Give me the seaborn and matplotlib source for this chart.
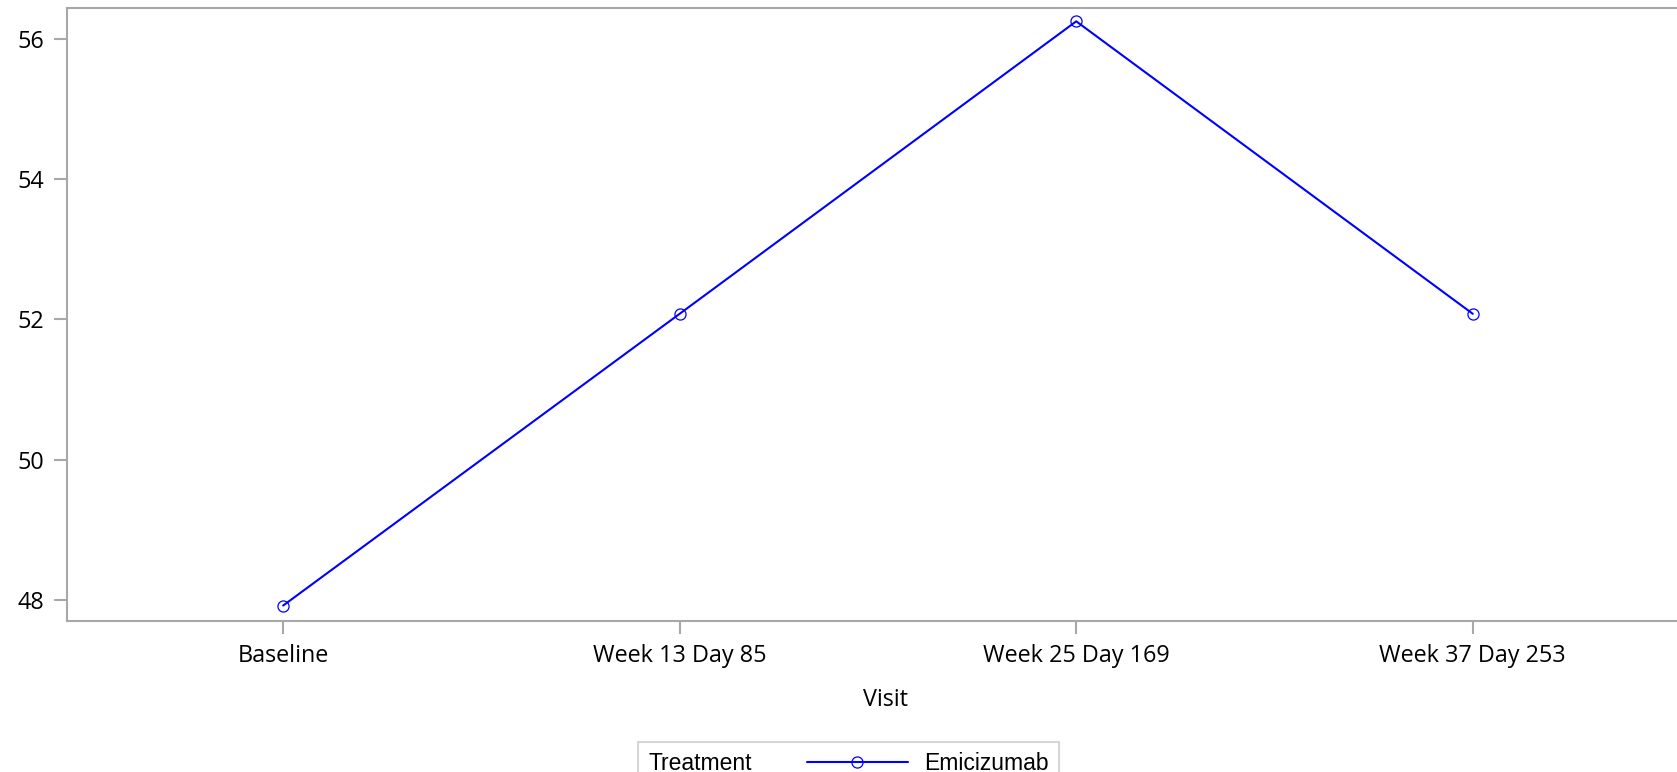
# Mean value by visit - Emicizumab

import pandas as pd
import seaborn as sns
import matplotlib.pyplot as plt
from matplotlib.lines import Line2D
from matplotlib.offsetbox import HPacker

# Data

visits = ["Baseline", "Week 13 Day 85", "Week 25 Day 169", "Week 37 Day 253"]
values = [47.92, 52.08, 56.25, 52.08]
treatment = ["Emicizumab"] * len(visits)
y_ticks = [48, 50, 52, 54, 56]

df = pd.DataFrame({"Visit": visits, "Value": values, "Treatment": treatment})

sns.set_style("white")
plt.rcParams["font.family"] = ["Open Sans", "DejaVu Sans"]
plt.rcParams["text.color"] = "black"
plt.rcParams["xtick.color"] = "black"
plt.rcParams["ytick.color"] = "black"
plt.rcParams["axes.labelcolor"] = "black"

W, H = 1677, 772
fig = plt.figure(figsize=(W / 100, H / 100), dpi=100)
ax = fig.add_axes([67 / W, 1 - 621 / H, 1 - 67 / W, (621 - 8) / H])

blue = "#0000FF"
grey = "#A8A8A8"

sns.lineplot(
    data=df,
    x="Visit",
    y="Value",
    color=blue,
    linewidth=1.5,
    marker="o",
    markersize=8,
    markerfacecolor="none",
    markeredgecolor=blue,
    markeredgewidth=0.9,
    sort=False,
    legend=False,
    ax=ax
)

ax.set_xlim(-0.545, 3.515)
ax.set_ylim(47.70, 56.44)
ax.set_yticks(y_ticks)
ax.set_ylabel("")
ax.set_xlabel("Visit", fontsize=16.8)
ax.xaxis.label.set_va("center")
ax.xaxis.set_label_coords((886 - 67) / (W - 67), -(700 - 621) / 613)

for side in ["left", "bottom", "top"]:
    ax.spines[side].set_color(grey)
    ax.spines[side].set_linewidth(1.5)
ax.spines["right"].set_visible(False)

ax.tick_params(
    bottom=True, left=True, length=9.5, width=1.5,
    color=grey, labelcolor="black", labelsize=16.8, pad=7
)

# Legend: "Treatment" title on the same row as the entry

handle = Line2D(
    [], [], color=blue, lw=1.5, marker="o", ms=8,
    mfc="none", mec=blue, mew=0.9
)
leg = fig.legend(
    handles=[handle],
    labels=["Emicizumab"],
    title="Treatment",
    loc="upper left",
    bbox_to_anchor=(638 / W, 1 - 742 / H),
    borderaxespad=0,
    frameon=True,
    fancybox=False,
    prop={"family": "Liberation Sans", "size": 16.5},
    title_fontproperties={"family": "Liberation Sans", "size": 16.5},
    handlelength=4.4,
    handletextpad=0.7,
    borderpad=0.45
)
leg.get_frame().set_edgecolor("#CCCCCC")
leg.get_frame().set_linewidth(1.5)

fs = 16.5
box = HPacker(
    pad=leg.borderpad * fs,
    sep=39.6,
    align="center",
    children=[leg._legend_title_box, leg._legend_handle_box]
)
box.set_figure(fig)
leg._legend_box = box
box.set_offset(leg._findoffset)

fig.savefig("out.png", dpi=100)
